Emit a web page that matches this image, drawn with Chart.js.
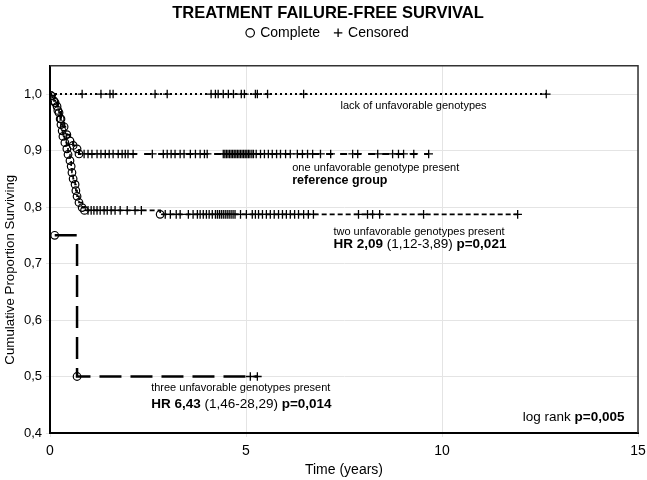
<!DOCTYPE html>
<html><head><meta charset="utf-8">
<script src="https://cdn.jsdelivr.net/npm/chart.js@4"></script>
<style>html,body{margin:0;padding:0;background:#fff}#wrap{width:647px;height:480px;position:relative}</style>
</head><body><div id="wrap"><canvas id="c"></canvas></div>
<script>
// ---- data ----
const xTicks = [0, 5, 10, 15];
const yTicks = [0.4, 0.5, 0.6, 0.7, 0.8, 0.9, 1.0];

// lack of unfavorable genotypes (no events)
const g1EventTimes = [];
const g1EventSurv = [];
const g1CensorTimes = [0.82,1.30,1.53,1.61,2.68,2.99,4.11,4.22,4.29,4.42,4.55,4.68,4.88,4.96,5.24,5.29,5.55,6.47,12.66];

// one unfavorable genotype present (reference group)
const g2EventTimes = [0.03,0.13,0.20,0.28,0.36,0.43,0.51,0.59,0.69,0.74];
const g2EventSurv  = [0.997,0.985,0.971,0.956,0.942,0.928,0.917,0.909,0.903,0.894];
const g2CensorTimes = [0.87,0.97,1.07,1.20,1.30,1.41,1.51,1.61,1.74,1.84,1.92,1.99,2.12,2.61,2.89,2.99,3.09,3.19,3.32,3.42,3.58,3.71,3.83,3.94,4.01,4.42,4.46,4.50,4.54,4.58,4.62,4.66,4.70,4.74,4.78,4.82,4.86,4.90,4.94,4.98,5.02,5.06,5.10,5.15,5.19,5.26,5.37,5.47,5.57,5.67,5.78,5.88,6.01,6.13,6.31,6.44,6.57,6.70,6.90,7.16,7.72,7.85,8.36,8.74,8.89,9.02,9.28,9.66];

// two unfavorable genotypes present
const g3EventTimes = [0.03,0.10,0.18,0.23,0.26,0.28,0.31,0.33,0.38,0.43,0.46,0.51,0.54,0.56,0.59,0.64,0.66,0.69,0.74,0.82,0.88,2.81];
const g3EventSurv  = [0.997,0.988,0.978,0.967,0.956,0.946,0.935,0.925,0.914,0.903,0.893,0.882,0.872,0.861,0.850,0.840,0.829,0.819,0.808,0.799,0.794,0.787];
const g3CensorTimes = [0.97,1.05,1.12,1.20,1.28,1.38,1.46,1.56,1.66,1.79,1.97,2.17,2.33,2.94,3.07,3.22,3.32,3.53,3.65,3.76,3.83,3.91,3.99,4.06,4.14,4.22,4.27,4.32,4.37,4.42,4.47,4.52,4.57,4.62,4.67,4.72,4.86,5.01,5.16,5.24,5.32,5.42,5.52,5.62,5.72,5.83,5.93,6.03,6.13,6.24,6.34,6.47,6.59,6.72,7.87,8.10,8.23,8.41,9.53,11.93];

// three unfavorable genotypes present
const g4EventTimes = [0.12, 0.69];
const g4EventSurv  = [0.75, 0.50];
const g4CensorTimes = [5.11, 5.29];

// ---- helpers ----
function survAt(evT, evS, t, start) {
  let s = start;
  for (let i = 0; i < evT.length; i++) if (evT[i] <= t) s = evS[i];
  return s;
}
function linePoints(evT, evS, cT, start, fromZero) {
  const pts = [];
  if (fromZero) pts.push({x: 0, y: start});
  evT.forEach((t, i) => pts.push({x: t, y: evS[i]}));
  cT.forEach(t => pts.push({x: t, y: survAt(evT, evS, t, start)}));
  pts.sort((a, b) => a.x - b.x);
  return pts;
}
function eventPoints(evT, evS) { return evT.map((t, i) => ({x: t, y: evS[i]})); }
function censorPoints(evT, evS, cT, start) { return cT.map(t => ({x: t, y: survAt(evT, evS, t, start)})); }

const groups = [
  {ev: g1EventTimes, sv: g1EventSurv, ce: g1CensorTimes, start: 1.0, zero: true,  dash: [2, 3],  width: 2},
  {ev: g2EventTimes, sv: g2EventSurv, ce: g2CensorTimes, start: 1.0, zero: true,  dash: [7, 7],  width: 2},
  {ev: g3EventTimes, sv: g3EventSurv, ce: g3CensorTimes, start: 1.0, zero: true,  dash: [5, 3],  width: 1.6},
  {ev: g4EventTimes, sv: g4EventSurv, ce: g4CensorTimes, start: 1.0, zero: false, dash: [22, 9], width: 2.5}
];

const datasets = [];
groups.forEach(g => {
  datasets.push({
    data: linePoints(g.ev, g.sv, g.ce, g.start, g.zero), xAxisID: 'x', yAxisID: 'y',
    stepped: true, showLine: true, pointRadius: 0, borderColor: '#000',
    borderWidth: g.width, borderDash: g.dash, fill: false, order: 2
  });
});
groups.forEach(g => {
  datasets.push({
    data: censorPoints(g.ev, g.sv, g.ce, g.start), xAxisID: 'x', yAxisID: 'y',
    showLine: false, pointStyle: 'cross', pointRadius: 4.3, borderColor: '#000',
    pointBorderWidth: 1.3, backgroundColor: '#000', order: 1
  });
  datasets.push({
    data: eventPoints(g.ev, g.sv), xAxisID: 'x', yAxisID: 'y',
    showLine: false, pointStyle: 'circle', pointRadius: 3.8, borderColor: '#000',
    pointBorderWidth: 1.2, backgroundColor: 'rgba(255,255,255,0)', order: 0
  });
});

const annotations = [
  {x: 7.41, y: 0.979, size: 11,   parts: [['lack of unfavorable genotypes', false]]},
  {x: 6.18, y: 0.870, size: 11,   parts: [['one unfavorable genotype present', false]]},
  {x: 6.18, y: 0.847, size: 12.5, parts: [['reference group', true]]},
  {x: 7.23, y: 0.755, size: 11,   parts: [['two unfavorable genotypes present', false]]},
  {x: 7.23, y: 0.734, size: 13.5, parts: [['HR 2,09', true], [' (1,12-3,89) ', false], ['p=0,021', true]]},
  {x: 2.58, y: 0.480, size: 11,   parts: [['three unfavorable genotypes present', false]]},
  {x: 2.58, y: 0.450, size: 13.5, parts: [['HR 6,43', true], [' (1,46-28,29) ', false], ['p=0,014', true]]},
  {x: 12.06, y: 0.428, size: 13.5, parts: [['log rank ', false], ['p=0,005', true]]}
];

const FONT = "'Liberation Sans', Arial, sans-serif";
Chart.defaults.font.family = FONT;
Chart.defaults.color = '#000';

const extras = {
  id: 'extras',
  afterDraw(chart) {
    const {ctx, chartArea: a, scales: {x, y}} = chart;
    ctx.save();
    ctx.strokeStyle = '#333';
    ctx.lineWidth = 1.5;
    ctx.beginPath();
    ctx.moveTo(a.left, a.top); ctx.lineTo(a.right, a.top); ctx.lineTo(a.right, a.bottom);
    ctx.stroke();
    ctx.textBaseline = 'middle';
    ctx.textAlign = 'left';
    ctx.fillStyle = '#000';
    annotations.forEach(an => {
      let px = x.getPixelForValue(an.x);
      const py = y.getPixelForValue(an.y);
      an.parts.forEach(([t, b]) => {
        ctx.font = (b ? 'bold ' : '') + an.size + 'px ' + FONT;
        ctx.fillText(t, px, py);
        px += ctx.measureText(t).width;
      });
    });
    ctx.restore();
  }
};

function noPad(s) { s.paddingLeft = 0; s.paddingRight = 0; s.paddingTop = 0; s.paddingBottom = 0; }

new Chart(document.getElementById('c'), {
  type: 'line',
  data: {datasets},
  options: {
    responsive: true, maintainAspectRatio: false, animation: false,
    layout: {padding: {left: 18, right: 9, top: 0, bottom: 0}},
    plugins: {
      tooltip: {enabled: false},
      title: {display: true, text: 'TREATMENT FAILURE-FREE SURVIVAL',
        font: {size: 16.5, weight: 'bold'}, padding: {top: 4, bottom: -13}, color: '#000'},
      legend: {
        display: true, position: 'top',
        labels: {
          usePointStyle: true, boxWidth: 6, boxHeight: 6, padding: 15,
          font: {size: 14}, color: '#000',
          generateLabels: () => [
            {text: 'Complete', pointStyle: 'circle', fillStyle: 'rgba(255,255,255,0)', strokeStyle: '#000', lineWidth: 1.2, hidden: false, fontColor: '#000'},
            {text: 'Censored', pointStyle: 'cross', fillStyle: '#000', strokeStyle: '#000', lineWidth: 1.3, hidden: false, fontColor: '#000'}
          ]
        },
        onClick: () => {}
      }
    },
    scales: {
      x: {
        type: 'linear', min: 0, max: 15,
        afterBuildTicks: s => { s.ticks = xTicks.map(v => ({value: v})); },
        afterFit: s => { s.height = 47; noPad(s); },
        ticks: {font: {size: 14}, color: '#000', padding: 6},
        grid: {color: '#e4e4e4', lineWidth: 1, tickLength: 4},
        border: {color: '#000', width: 2},
        title: {display: true, text: 'Time (years)', font: {size: 14}, color: '#000', padding: {top: 2, bottom: 1}}
      },
      y: {
        min: 0.4, max: 1.05,
        afterBuildTicks: s => { s.ticks = yTicks.map(v => ({value: v})); },
        afterFit: s => { s.width = 32; noPad(s); },
        ticks: {font: {size: 13}, color: '#000', padding: 4, callback: v => v.toFixed(1).replace('.', ',')},
        grid: {color: '#e4e4e4', lineWidth: 1, tickLength: 4},
        border: {color: '#000', width: 2},
        title: {display: true, text: 'Cumulative Proportion Surviving           ', font: {size: 13.3}, color: '#000', padding: {top: -16, bottom: 0}}
      },
      xTop: {
        type: 'linear', position: 'top', display: true, min: 0, max: 15,
        afterFit: s => { s.height = 16; noPad(s); },
        ticks: {display: false}, grid: {display: false}, border: {display: false}
      }
    }
  },
  plugins: [extras]
});
</script>
</body></html>
